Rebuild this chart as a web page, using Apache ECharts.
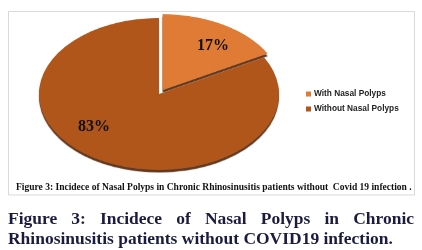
<!DOCTYPE html>
<html>
<head>
<meta charset="utf-8">
<script src="https://cdn.jsdelivr.net/npm/echarts@6/dist/echarts.min.js"></script>
<style>
  html, body { margin: 0; padding: 0; background: #fff; }
  #wrap { position: relative; width: 422px; height: 250px; overflow: hidden; }
  #pie { position: absolute; left: 29px; top: -36px; width: 260px; height: 260px;
         transform: scaleY(0.633); transform-origin: 50% 50%; }
  #main { position: absolute; left: 0; top: 0; width: 422px; height: 250px; }
</style>
</head>
<body>
<div id="wrap">
  <div id="pie"></div>
  <div id="main"></div>
</div>
<script>
var categories = ['With Nasal Polyps', 'Without Nasal Polyps'];
var percents = [17, 83];
var sliceColors = ['#E07B36', '#B1561B'];

var innerTitle = 'Figure 3: Incidece of Nasal Polyps in Chronic Rhinosinusitis patients without  Covid 19 infection .';
var captionLine1 = ['Figure', '3:', 'Incidece', 'of', 'Nasal', 'Polyps', 'in', 'Chronic'];
var captionLine2 = 'Rhinosinusitis patients without COVID19 infection.';

var pieData = categories.map(function (c, i) {
    return { name: c, value: percents[i], selected: i === 0, itemStyle: { color: sliceColors[i] } };
});

// pie drawn in its own box, squashed vertically to get the tilted look
var pieChart = echarts.init(document.getElementById('pie'));
pieChart.setOption({
    animation: false,
    series: [{
        type: 'pie',
        radius: 120,
        center: ['50%', '50%'],
        startAngle: 90,
        selectedMode: 'single',
        selectedOffset: 7,
        label: { show: false },
        labelLine: { show: false },
        itemStyle: {
            borderWidth: 0,
            shadowColor: 'rgba(80,35,8,0.9)',
            shadowBlur: 1,
            shadowOffsetY: 4
        },
        emphasis: { disabled: true },
        data: pieData
    }]
});

// measuring text for the captions
var ctx = document.createElement('canvas').getContext('2d');
function textWidth(t, font) { ctx.font = font; return ctx.measureText(t).width; }

var capFamily = '"Liberation Serif"';
var capSize = 16 * 385 / textWidth(captionLine2, 'bold 16px ' + capFamily);
var capFont = 'bold ' + capSize.toFixed(2) + 'px ' + capFamily;
var capLeft = 8, capRight = 414;
var wordsW = captionLine1.map(function (w) { return textWidth(w, capFont); });
var totalW = wordsW.reduce(function (a, b) { return a + b; }, 0);
var gap = (capRight - capLeft - totalW) / (captionLine1.length - 1);
var graphics = [];
var cx = capLeft;
captionLine1.forEach(function (w, i) {
    graphics.push({
        type: 'text', x: cx, y: 219,
        style: { text: w, font: capFont, fill: '#1b1b3f', verticalAlign: 'middle' }
    });
    cx += wordsW[i] + gap;
});
graphics.push({
    type: 'text', x: capLeft, y: 239,
    style: { text: captionLine2, font: capFont, fill: '#1b1b3f', verticalAlign: 'middle' }
});

// small caption inside the box, sized to fit its width
var innerSize = 8 * 396 / textWidth(innerTitle, 'bold 8px "Liberation Serif"');
graphics.push({
    type: 'text', x: 16, y: 188,
    style: { text: innerTitle, font: 'bold ' + innerSize.toFixed(2) + 'px "Liberation Serif"', fill: '#111', verticalAlign: 'middle' }
});
graphics.push({
    type: 'rect',
    shape: { x: 8.5, y: 11.5, width: 406, height: 183.5 },
    style: { fill: 'none', stroke: '#d9d9d9', lineWidth: 1 },
    z: -1
});
// percentage labels
graphics.push({
    type: 'text', x: 213, y: 46,
    style: { text: percents[0] + '%', font: 'bold 16px "Liberation Serif"', fill: '#111', align: 'center', verticalAlign: 'middle' }
});
graphics.push({
    type: 'text', x: 94, y: 127,
    style: { text: percents[1] + '%', font: 'bold 16px "Liberation Serif"', fill: '#111', align: 'center', verticalAlign: 'middle' }
});

var mainChart = echarts.init(document.getElementById('main'));
mainChart.setOption({
    animation: false,
    legend: {
        orient: 'vertical',
        left: 301,
        top: 85,
        itemWidth: 5,
        itemHeight: 5,
        itemGap: 7,
        icon: 'rect',
        selectedMode: false,
        textStyle: { fontFamily: 'Liberation Sans', fontWeight: 'bold', fontSize: 8.3, color: '#222', padding: [0, 0, 0, -2] },
        data: categories
    },
    // legend source only, the visible pie is in #pie
    series: [{
        type: 'pie',
        radius: [0, 0],
        silent: true,
        label: { show: false },
        labelLine: { show: false },
        data: pieData
    }],
    graphic: graphics
});
</script>
</body>
</html>
